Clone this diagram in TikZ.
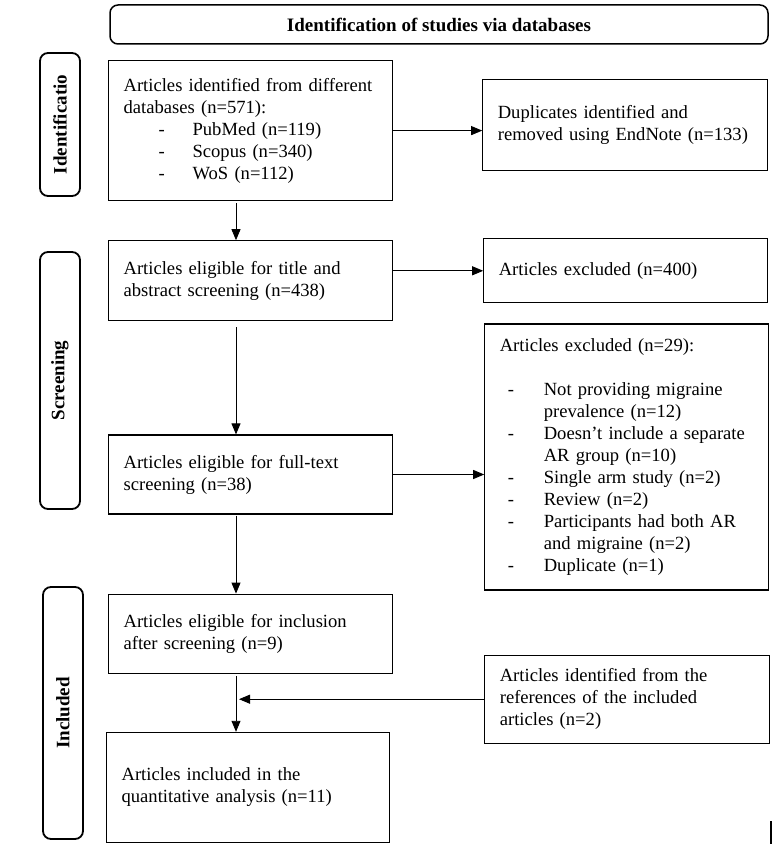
\documentclass[tikz,border=0pt]{standalone}
\usepackage{fontspec}
\setmainfont{Liberation Serif}
\usetikzlibrary{positioning,arrows.meta}

\newcommand{\listdash}[2]{\makebox[#2][l]{\hspace*{#1}-}}

\tikzset{
  box/.style 2 args={draw, line width=1.2pt, align=left, anchor=north west,
    inner xsep=15pt, text width=#1, minimum height=#2,
    font=\fontsize{18.6}{22}\selectfont},
  stage/.style={draw, line width=1.8pt, rounded corners=8pt, rotate=90,
    minimum height=40pt, inner sep=0pt, font=\bfseries\fontsize{19}{22}\selectfont},
  arr/.style={-{Triangle[length=11pt,width=9pt]}, line width=0.9pt},
}

\begin{document}
\begin{tikzpicture}[x=1pt,y=-1pt]
  \useasboundingbox (0,0) rectangle (781,848);

  \node[draw, rounded corners=8pt, line width=1.5pt, minimum width=658pt, minimum height=39pt,
    font=\bfseries\fontsize{19}{22}\selectfont] (head) at (439,24.5) {Identification of studies via databases};

  % stages
  \node[stage, minimum width=143pt] (identlab) at (60,124.5) {Identificatio};
  \node[stage, minimum width=257pt] (screenlab) at (60,380.5) {Screening};
  \node[stage, minimum width=252pt] (incllab) at (63,713) {Included};

  % main column
  \node[box={254pt}{140pt}] (ident) at (108,60) {Articles identified from different\\
    databases (n=571):\\
    \listdash{35pt}{69pt}PubMed (n=119)\\
    \listdash{35pt}{69pt}Scopus (n=340)\\
    \listdash{35pt}{69pt}WoS (n=112)};
  \node[box={254pt}{80pt}, below=39pt of ident.south west, anchor=north west] (screen1)
    {Articles eligible for title and\\ abstract screening (n=438)};
  \node[box={254pt}{79pt}, below=113pt of screen1.south west, anchor=north west] (fulltext)
    {Articles eligible for full-text\\ screening (n=38)};
  \node[box={254pt}{79pt}, below=79pt of fulltext.south west, anchor=north west] (incl)
    {Articles eligible for inclusion\\ after screening (n=9)};
  \node[box={253pt}{110pt}, below=58pt of incl.south west, anchor=north west, xshift=-2pt] (final)
    {Articles included in the\\ quantitative analysis (n=11)};

  % right column
  \node[box={255pt}{91pt}, right=89pt of ident.north east, anchor=north west, yshift=-19pt] (dup)
    {Duplicates identified and\\ removed using EndNote (n=133)};
  \node[box={254pt}{64pt}, right=90pt of screen1.north east, anchor=north west, yshift=2pt] (excl400)
    {Articles excluded (n=400)};
  \node[box={254pt}{266pt}, below=20pt of excl400.south west, anchor=north west, xshift=1pt] (excl29)
    {Articles excluded (n=29):\\[22pt]
    \listdash{8pt}{44pt}Not providing migraine\\
    \hspace*{44pt}prevalence (n=12)\\
    \listdash{8pt}{44pt}Doesn’t include a separate\\
    \hspace*{44pt}AR group (n=10)\\
    \listdash{8pt}{44pt}Single arm study (n=2)\\
    \listdash{8pt}{44pt}Review (n=2)\\
    \listdash{8pt}{44pt}Participants had both AR\\
    \hspace*{44pt}and migraine (n=2)\\
    \listdash{8pt}{44pt}Duplicate (n=1)};
  \node[box={255pt}{88pt}, below=64pt of excl29.south west, anchor=north west] (refs)
    {Articles identified from the\\ references of the included\\ articles (n=2)};

  % connectors
  \coordinate (spine) at (236,0);
  \coordinate (merge) at (refs.west -| spine);
  \draw[arr, shorten <=2pt] (ident.south -| spine) -- (screen1.north -| spine);
  \draw[arr, shorten <=6pt] (screen1.south -| spine) -- (fulltext.north -| spine);
  \draw[arr, shorten <=1pt] (fulltext.south -| spine) -- (incl.north -| spine);
  \draw[arr, shorten <=2pt] (incl.south -| spine) -- (final.north -| spine);
  \draw[arr] (ident.east) -- (ident.east -| dup.west);
  \draw[arr] (excl400.west -| screen1.east) -- (excl400.west);
  \draw[arr] (fulltext.east) -- (fulltext.east -| excl29.west);
  \draw[arr, shorten >=3pt] (refs.west) -- (merge);

  \draw[line width=1.2pt] (771,821) -- (771,844);
\end{tikzpicture}
\end{document}
